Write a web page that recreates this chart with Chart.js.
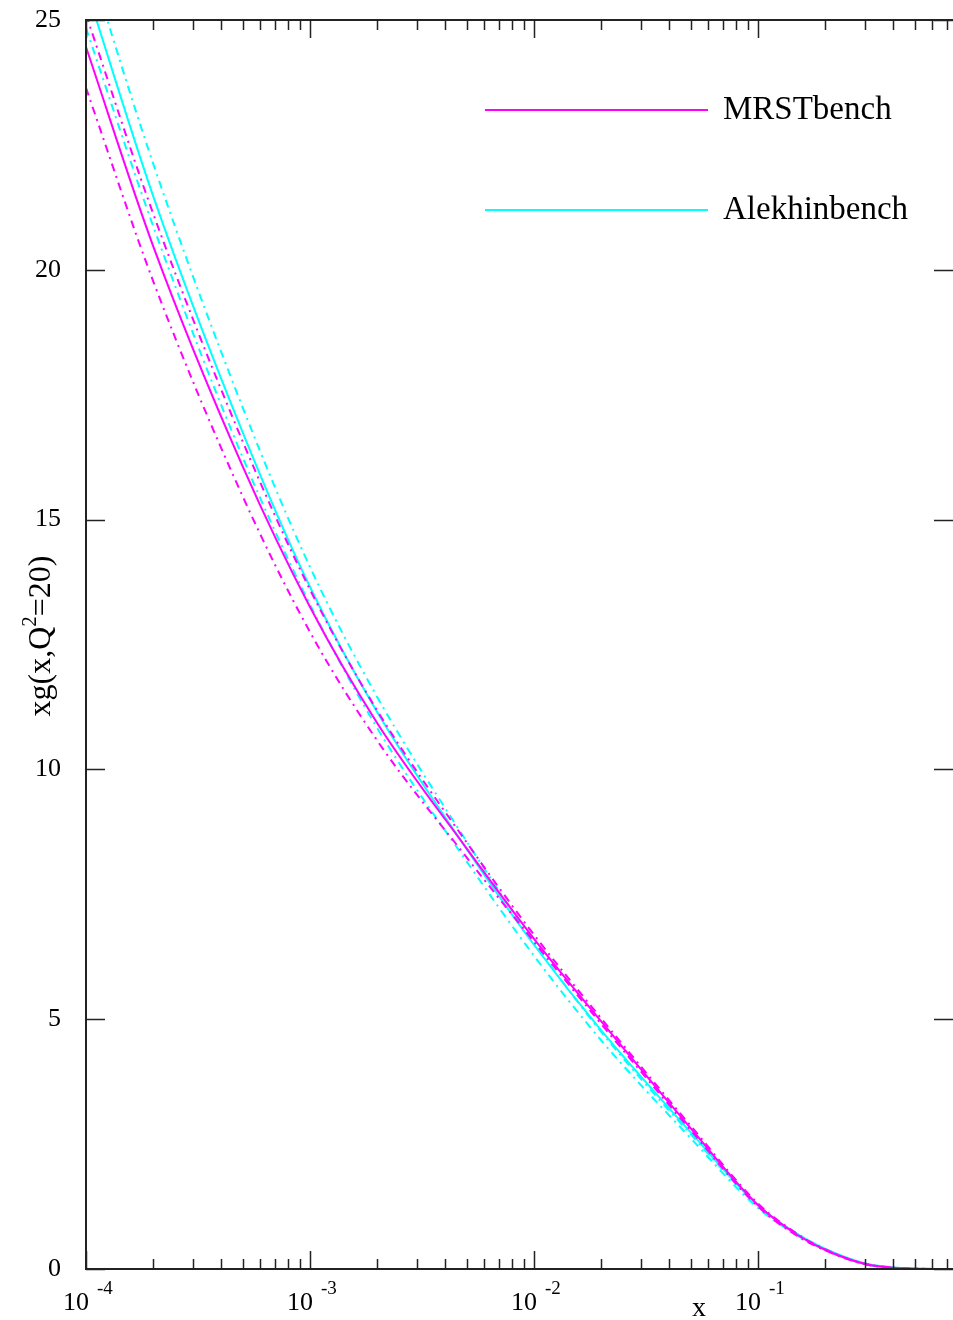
<!DOCTYPE html>
<html>
<head>
<meta charset="utf-8">
<script src="https://cdn.jsdelivr.net/npm/chart.js@4/dist/chart.umd.min.js"></script>
<style>
  html, body { margin: 0; padding: 0; background: #fff; overflow: hidden; }
  #wrap { width: 953px; height: 1320px; position: relative; }
</style>
</head>
<body>
<div id="wrap"><canvas id="c" width="953" height="1320"></canvas></div>
<script>
// Momentum fraction grid
const xValues = [1e-4, 2e-4, 5e-4, 1e-3, 2e-3, 5e-3, 1e-2, 2e-2, 5e-2, 0.1, 0.15, 0.2, 0.3, 0.4, 0.5, 0.6, 0.742];

// Gluon distribution xg(x, Q^2 = 20), central values and band edges
const mrstCentral = [24.46, 20.46, 16.07, 13.25, 10.92, 8.42, 6.61, 4.95, 2.82, 1.28, 0.68, 0.38, 0.10, 0.025, 0.005, 0.001, 0];
const mrstUpper   = [25.11, 21.11, 16.57, 13.60, 11.17, 8.54, 6.69, 5.01, 2.87, 1.31, 0.70, 0.39, 0.105, 0.027, 0.006, 0.001, 0];
const mrstLower   = [23.64, 19.76, 15.47, 12.75, 10.57, 8.24, 6.55, 4.90, 2.78, 1.25, 0.66, 0.37, 0.095, 0.023, 0.004, 0.001, 0];

const alekCentral = [25.66, 21.46, 16.75, 13.65, 11.14, 8.41, 6.49, 4.77, 2.74, 1.27, 0.70, 0.40, 0.11, 0.03, 0.008, 0.002, 0];
const alekUpper   = [26.36, 22.11, 17.25, 14.05, 11.44, 8.56, 6.54, 4.74, 2.70, 1.27, 0.70, 0.40, 0.11, 0.03, 0.008, 0.002, 0];
const alekLower   = [24.84, 20.86, 16.25, 13.30, 10.82, 8.16, 6.27, 4.57, 2.62, 1.22, 0.67, 0.38, 0.10, 0.027, 0.007, 0.002, 0];

const seriesNames = ['MRSTbench', 'Alekhinbench'];

// Axis labelling
const xMajorTicks = [1e-4, 1e-3, 1e-2, 1e-1];
const xTickExponents = ['-4', '-3', '-2', '-1'];
const yTicks = [0, 5, 10, 15, 20, 25];

const MAGENTA = '#ff00ff';
const CYAN = '#00ffff';
const INK = '#222222';
const FONT = '"Liberation Serif", "Times New Roman", serif';
const DASHDOT = [8, 5, 2, 5];

function pts(ys) { return xValues.map((x, i) => ({ x: x, y: ys[i] })); }

function line(label, ys, color, dash, width) {
  return {
    label: label,
    data: pts(ys),
    borderColor: color,
    backgroundColor: color,
    borderWidth: width,
    borderDash: dash,
    pointRadius: 0,
    fill: false,
    cubicInterpolationMode: 'monotone'
  };
}

const frameAndLabels = {
  id: 'frameAndLabels',
  afterDraw(chart) {
    const ctx = chart.ctx;
    const a = chart.chartArea;
    const xs = chart.scales.x;
    const ys = chart.scales.y;
    ctx.save();
    ctx.strokeStyle = INK;

    // frame
    ctx.lineWidth = 2;
    ctx.beginPath();
    ctx.moveTo(a.right, a.top); ctx.lineTo(a.left, a.top);
    ctx.lineTo(a.left, a.bottom); ctx.lineTo(a.right, a.bottom);
    ctx.stroke();

    // log ticks on top and bottom edges
    ctx.lineWidth = 1.5;
    for (let d = -4; d <= 0; d++) {
      for (let m = 1; m <= 9; m++) {
        const v = m * Math.pow(10, d);
        if (v < xs.min || v > xs.max) continue;
        const px = Math.round(xs.getPixelForValue(v)) + 0.5;
        const len = m === 1 ? 18 : 10;
        ctx.beginPath();
        ctx.moveTo(px, a.bottom); ctx.lineTo(px, a.bottom - len);
        ctx.moveTo(px, a.top); ctx.lineTo(px, a.top + len);
        ctx.stroke();
      }
    }

    // linear ticks on left and right edges
    yTicks.forEach(v => {
      const py = Math.round(ys.getPixelForValue(v)) + 0.5;
      ctx.beginPath();
      ctx.moveTo(a.left, py); ctx.lineTo(a.left + 19, py);
      ctx.moveTo(a.right, py); ctx.lineTo(a.right - 19, py);
      ctx.stroke();
    });

    // x tick labels: 10 with raised exponent
    ctx.fillStyle = '#000';
    ctx.textBaseline = 'alphabetic';
    xMajorTicks.forEach((v, i) => {
      const px = xs.getPixelForValue(v);
      ctx.font = '26px ' + FONT;
      ctx.textAlign = 'right';
      ctx.fillText('10', px + 3, 1310);
      ctx.font = '19px ' + FONT;
      ctx.textAlign = 'left';
      ctx.fillText(xTickExponents[i], px + 11, 1294);
    });

    // x axis title
    ctx.font = '28px ' + FONT;
    ctx.textAlign = 'center';
    ctx.fillText('x', 699, 1316);

    // y axis title, rotated
    ctx.save();
    ctx.translate(50, 636);
    ctx.rotate(-Math.PI / 2);
    const big = '32px ' + FONT, small = '21px ' + FONT;
    const parts = [['xg(x,Q', big, 0], ['2', small, -14], ['=20)', big, 0]];
    let total = 0;
    parts.forEach(p => { ctx.font = p[1]; total += ctx.measureText(p[0]).width; });
    let cx = -total / 2;
    ctx.textAlign = 'left';
    parts.forEach(p => {
      ctx.font = p[1];
      ctx.fillText(p[0], cx, p[2]);
      cx += ctx.measureText(p[0]).width;
    });
    ctx.restore();

    // legend
    const legendRows = [[seriesNames[0], MAGENTA, 110], [seriesNames[1], CYAN, 210]];
    legendRows.forEach(r => {
      ctx.strokeStyle = r[1];
      ctx.lineWidth = 2;
      ctx.setLineDash([]);
      ctx.beginPath();
      ctx.moveTo(485, r[2]); ctx.lineTo(708, r[2]);
      ctx.stroke();
      ctx.fillStyle = '#000';
      ctx.font = '33px ' + FONT;
      ctx.textAlign = 'left';
      ctx.textBaseline = 'middle';
      ctx.fillText(r[0], 723, r[2]);
    });
    ctx.restore();
  }
};

new Chart(document.getElementById('c'), {
  type: 'line',
  data: {
    datasets: [
      line(seriesNames[0], mrstCentral, MAGENTA, [], 2),
      line(seriesNames[0] + ' upper', mrstUpper, MAGENTA, DASHDOT, 2),
      line(seriesNames[0] + ' lower', mrstLower, MAGENTA, DASHDOT, 2),
      line(seriesNames[1], alekCentral, CYAN, [], 2),
      line(seriesNames[1] + ' upper', alekUpper, CYAN, DASHDOT, 2),
      line(seriesNames[1] + ' lower', alekLower, CYAN, DASHDOT, 2)
    ]
  },
  options: {
    responsive: false,
    animation: false,
    devicePixelRatio: 1,
    layout: { padding: { top: 20, right: 0, left: 0, bottom: 0 } },
    plugins: { legend: { display: false }, tooltip: { enabled: false } },
    scales: {
      x: {
        type: 'logarithmic',
        min: 1e-4,
        max: 0.742,
        grid: { display: false },
        border: { display: false },
        ticks: { display: false },
        afterFit(s) { s.height = 51; s.paddingLeft = 0; s.paddingRight = 0; }
      },
      y: {
        type: 'linear',
        min: 0,
        max: 25,
        grid: { display: false, drawTicks: false },
        border: { display: false },
        ticks: {
          stepSize: 5,
          color: '#000',
          padding: 25,
          font: { family: FONT, size: 26 }
        },
        afterFit(s) { s.width = 86; s.paddingTop = 0; s.paddingBottom = 0; }
      }
    }
  },
  plugins: [frameAndLabels]
});
</script>
</body>
</html>
